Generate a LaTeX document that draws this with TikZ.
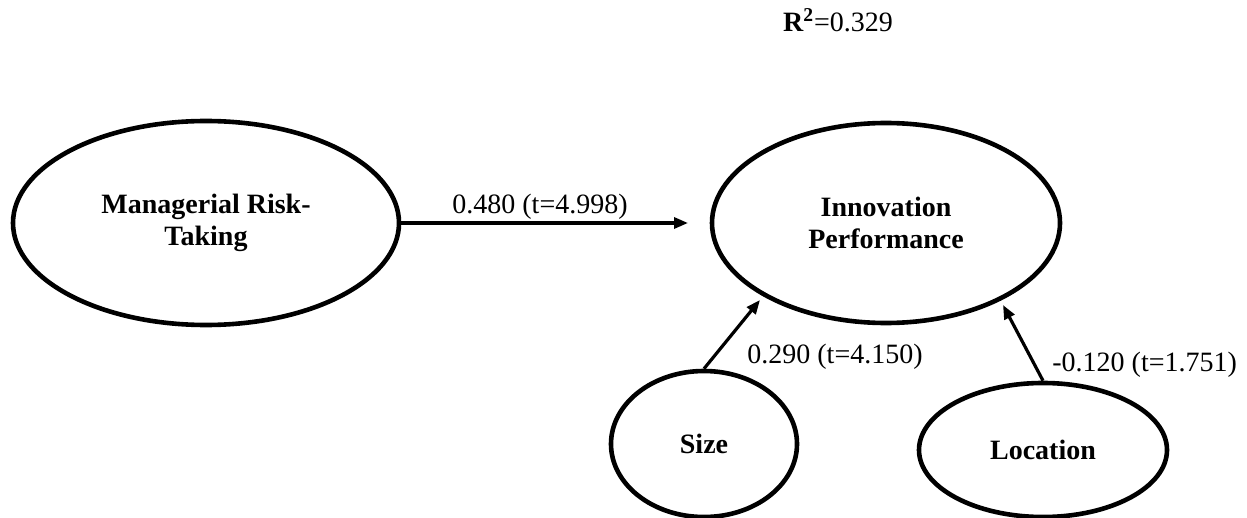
\documentclass[tikz,border=0pt]{standalone}
\usepackage{fontspec}
\setmainfont{Liberation Serif}
\usetikzlibrary{shapes.geometric,arrows.meta}
\begin{document}
\begin{tikzpicture}[x=0.5pt,y=-0.5pt,
  lat/.style={draw,ellipse,line width=2.3pt,inner sep=0pt,font=\fontsize{14}{16}\selectfont\bfseries,align=center},
  pathar/.style={line width=1.6pt,-{Triangle[length=7pt,width=5.5pt]}},
  lbl/.style={font=\fontsize{14}{16}\selectfont,inner sep=0pt}]
\useasboundingbox (0,0) rectangle (1247,518);
\node[lat,minimum width=193pt,minimum height=102pt] (mrt) at (206,223) {Managerial Risk-\\Taking};
\node[lat,minimum width=174pt,minimum height=100pt] (ip) at (886,223) {Innovation\\Performance};
\node[lat,minimum width=93pt,minimum height=73pt] (size) at (704,444) {Size};
\node[lat,minimum width=124pt,minimum height=67pt] (loc) at (1043,450) {Location};
\coordinate (t1) at (688,223);
\coordinate (t2) at (760,300);
\coordinate (t3) at (1003,305);
\draw[pathar] (mrt.east) -- (t1);
\draw[pathar] (size.north) -- (t2);
\draw[pathar] (loc.north) -- (t3);
\node[lbl] (l1) at (540,207) {0.480 (t=4.998)};
\node[lbl,anchor=west] (l2) at (747,357) {0.290 (t=4.150)};
\node[lbl,anchor=west] (l3) at (1052,365) {-0.120 (t=1.751)};
\node[lbl] (r2) at (838,20) {\textbf{R\textsuperscript{2}}=0.329};
\end{tikzpicture}
\end{document}
